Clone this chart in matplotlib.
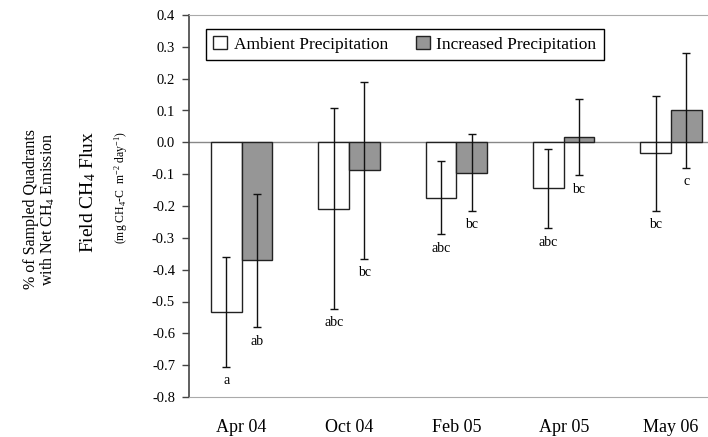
import matplotlib
matplotlib.use("Agg")
import matplotlib.pyplot as plt
import numpy as np

plt.rcParams['font.family'] = ['Liberation Serif', 'DejaVu Serif']
plt.rcParams['mathtext.fontset'] = 'custom'
plt.rcParams['mathtext.rm'] = 'Liberation Serif'
plt.rcParams['mathtext.it'] = 'Liberation Serif:italic'

categories = ["Apr 04", "Oct 04", "Feb 05", "Apr 05", "May 06"]
ambient = [-0.533, -0.208, -0.174, -0.145, -0.035]
ambient_err = [0.173, 0.315, 0.115, 0.125, 0.180]
increased = [-0.371, -0.088, -0.095, 0.017, 0.100]
increased_err = [0.210, 0.278, 0.120, 0.120, 0.180]
ambient_letters = ["a", "abc", "abc", "abc", "bc"]
increased_letters = ["ab", "bc", "bc", "bc", "c"]
yticks = [0.4, 0.3, 0.2, 0.1, 0.0, -0.1, -0.2, -0.3, -0.4, -0.5, -0.6, -0.7, -0.8]

fig = plt.figure(figsize=(7.08, 4.37), dpi=100)
ax = fig.add_axes([189/708, 1 - 397/437, (708 - 189)/708 + 0.01, (397 - 15)/437])

x = np.arange(len(categories))
w = 0.285
ax.bar(x - w/2, ambient, w, color='white', edgecolor='#222222', linewidth=1.0,
       label='Ambient Precipitation', zorder=2)
ax.bar(x + w/2, increased, w, color='#969696', edgecolor='#222222', linewidth=1.0,
       label='Increased Precipitation', zorder=2)
ax.errorbar(x - w/2, ambient, yerr=ambient_err, fmt='none', ecolor='#111111',
            elinewidth=1.0, capsize=2.8, capthick=1.0, zorder=3)
ax.errorbar(x + w/2, increased, yerr=increased_err, fmt='none', ecolor='#111111',
            elinewidth=1.0, capsize=2.8, capthick=1.0, zorder=3)

for xi, v, e, t in zip(x - w/2, ambient, ambient_err, ambient_letters):
    ax.annotate(t, (xi, v - e), xytext=(0, -10), textcoords='offset points',
                ha='center', va='center', fontsize=10)
for xi, v, e, t in zip(x + w/2, increased, increased_err, increased_letters):
    ax.annotate(t, (xi, v - e), xytext=(0, -10), textcoords='offset points',
                ha='center', va='center', fontsize=10)

ax.axhline(0, color='#888888', linewidth=1.0, zorder=1)
ax.set_ylim(-0.8, 0.4)
ax.set_xlim(-0.49, 4.41)
ax.set_yticks(yticks)
ax.set_yticklabels([f"{t:.1f}" for t in yticks], fontsize=10.5)
ax.set_xticks(x)
ax.set_xticklabels(categories, fontsize=13)
ax.tick_params(axis='x', length=0, pad=16)
ax.tick_params(axis='y', direction='out', length=5, width=1, color='#444444', pad=5)
ax.spines['right'].set_visible(False)
ax.spines['top'].set_color('#aaaaaa')
ax.spines['bottom'].set_color('#aaaaaa')
ax.spines['left'].set_color('#444444')
ax.spines['left'].set_linewidth(1.2)

leg = ax.legend(loc='upper left', bbox_to_anchor=(0.032, 0.963), borderaxespad=0,
                ncol=2, fontsize=12.5,
                frameon=True, fancybox=False, edgecolor='black', framealpha=1,
                handlelength=0.8, handleheight=0.8, handletextpad=0.4,
                columnspacing=1.6, borderpad=0.4)
leg.get_frame().set_linewidth(1.0)

fig.text(88/708, 1 - 192/437, r"Field CH$_4$ Flux", rotation=90, ha='center', va='center', fontsize=14)
fig.text(121/708, 1 - 188/437, r"(mg CH$_4$-C  m$^{-2}$ day$^{-1}$)", rotation=90, ha='center', va='center', fontsize=8.5)
fig.text(31/708, 1 - 209/437, "% of Sampled Quadrants", rotation=90, ha='center', va='center', fontsize=11.5)
fig.text(48/708, 1 - 209/437, r"with Net CH$_4$ Emission", rotation=90, ha='center', va='center', fontsize=11.5)

fig.savefig("out.png", dpi=100)
